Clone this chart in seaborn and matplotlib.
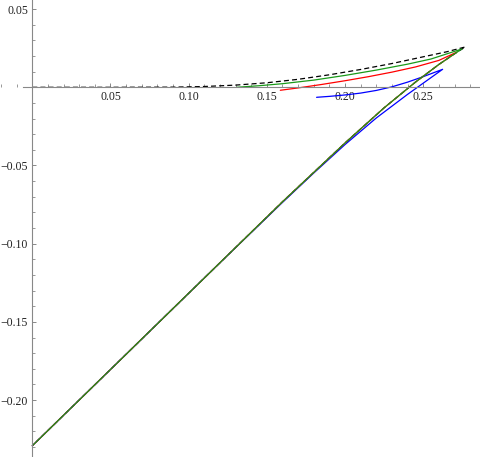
import matplotlib
matplotlib.use("Agg")
import matplotlib.pyplot as plt
import matplotlib.ticker as mticker
import pandas as pd
import seaborn as sns

# ---- data ----
# each series: an upper curved branch (left end -> cusp) and a nearly straight branch (cusp -> x=0)
black_curve_x = [0.0, 0.05, 0.09, 0.11, 0.13, 0.15, 0.17, 0.19, 0.21, 0.23, 0.25, 0.265, 0.2769]
black_curve_y = [0.0, 0.0, 0.0001, 0.0005, 0.0014, 0.0029, 0.0051, 0.0080, 0.0114, 0.0152, 0.0195, 0.0227, 0.0258]
black_line_x = [0.2769, 0.27, 0.26, 0.245, 0.225, 0.20, 0.16, 0.12, 0.08, 0.04, 0.0]
black_line_y = [0.0258, 0.0214, 0.0146, 0.0033, -0.0131, -0.0356, -0.0732, -0.1122, -0.1512, -0.1902, -0.2292]

green_curve_x = [0.1307, 0.145, 0.16, 0.18, 0.20, 0.22, 0.24, 0.255, 0.2747]
green_curve_y = [0.0, 0.0010, 0.0023, 0.0046, 0.0076, 0.0110, 0.0148, 0.0181, 0.0245]
green_line_x = [0.2747, 0.27, 0.26, 0.245, 0.225, 0.20, 0.16, 0.12, 0.08, 0.04, 0.0]
green_line_y = [0.0245, 0.0214, 0.0146, 0.0033, -0.0131, -0.0356, -0.0732, -0.1122, -0.1512, -0.1902, -0.2292]

red_curve_x = [0.1586, 0.17, 0.185, 0.20, 0.215, 0.23, 0.245, 0.26, 0.2715]
red_curve_y = [-0.0019, -0.0004, 0.0018, 0.0042, 0.0068, 0.0097, 0.0130, 0.0172, 0.0225]
red_line_x = [0.2715, 0.26, 0.245, 0.225, 0.20, 0.16, 0.12, 0.08, 0.04, 0.0]
red_line_y = [0.0225, 0.0146, 0.0033, -0.0131, -0.0356, -0.0732, -0.1122, -0.1512, -0.1902, -0.2292]

blue_curve_x = [0.1818, 0.19, 0.20, 0.21, 0.22, 0.23, 0.24, 0.25, 0.2624]
blue_curve_y = [-0.0064, -0.0058, -0.0049, -0.0037, -0.0020, 0.0003, 0.0033, 0.0068, 0.0115]
blue_line_x = [0.2624, 0.24, 0.22, 0.20, 0.18, 0.16, 0.12, 0.08, 0.04, 0.0]
blue_line_y = [0.0115, -0.0045, -0.0196, -0.0366, -0.0548, -0.0736, -0.1122, -0.1512, -0.1902, -0.2292]

x_major_ticks = [0.05, 0.10, 0.15, 0.20, 0.25]
y_major_ticks = [-0.20, -0.15, -0.10, -0.05, 0.05]

sns.set_style("white")
plt.rcParams['font.family'] = ['Liberation Serif', 'DejaVu Serif']
plt.rcParams['axes.unicode_minus'] = True

fig = plt.figure(figsize=(4.8, 4.57), dpi=100)
ax = fig.add_axes([0, 0, 1, 1])
ax.set_facecolor('white')

def series(cx, cy, lx, ly):
    x = list(cx) + list(lx[1:])
    y = list(cy) + list(ly[1:])
    return pd.DataFrame({"x": x, "y": y})

common = dict(x="x", y="y", sort=False, estimator=None, ax=ax, legend=False)
sns.lineplot(data=series(black_curve_x, black_curve_y, black_line_x, black_line_y),
             color="black", lw=0.9, linestyle=(0, (4, 2.5)), **common)
sns.lineplot(data=series(blue_curve_x, blue_curve_y, blue_line_x, blue_line_y),
             color="#0000ff", lw=0.9, **common)
sns.lineplot(data=series(red_curve_x, red_curve_y, red_line_x, red_line_y),
             color="#ff0000", lw=0.9, **common)
sns.lineplot(data=series(green_curve_x, green_curve_y, green_line_x, green_line_y),
             color="#1a9a1a", lw=0.9, **common)

ax.set_xlim(-0.02065, 0.2863)
ax.set_ylim(-0.2364, 0.05582)
ax.set_xlabel("")
ax.set_ylabel("")

axis_color = "#888888"
for s in ["top", "right"]:
    ax.spines[s].set_visible(False)
ax.spines["left"].set_position(("data", 0))
ax.spines["bottom"].set_position(("data", 0))
ax.spines["left"].set_color(axis_color)
ax.spines["bottom"].set_color(axis_color)
ax.spines["left"].set_linewidth(0.8)
ax.spines["bottom"].set_linewidth(0.8)
ax.spines["bottom"].set_bounds(-0.006, 0.2863)

ax.xaxis.set_major_locator(mticker.FixedLocator(x_major_ticks))
ax.yaxis.set_major_locator(mticker.FixedLocator(y_major_ticks))
ax.xaxis.set_minor_locator(mticker.MultipleLocator(0.01))
ax.yaxis.set_minor_locator(mticker.MultipleLocator(0.01))
ax.xaxis.set_major_formatter(mticker.FixedFormatter([f"{v:.2f}" for v in x_major_ticks]))
ax.yaxis.set_major_formatter(mticker.FixedFormatter([f"{v:.2f}".replace("-", "\u2212") for v in y_major_ticks]))

ax.tick_params(axis="both", which="major", direction="in", length=3.2, width=0.7,
               color=axis_color, labelsize=8.5, labelcolor="#222222", pad=3)
ax.tick_params(axis="both", which="minor", direction="in", length=1.9, width=0.6,
               color=axis_color)
ax.tick_params(axis="x", which="both", bottom=True, top=False)
ax.tick_params(axis="y", which="both", left=True, right=False)

fig.savefig("out.png", dpi=100, facecolor="white")
